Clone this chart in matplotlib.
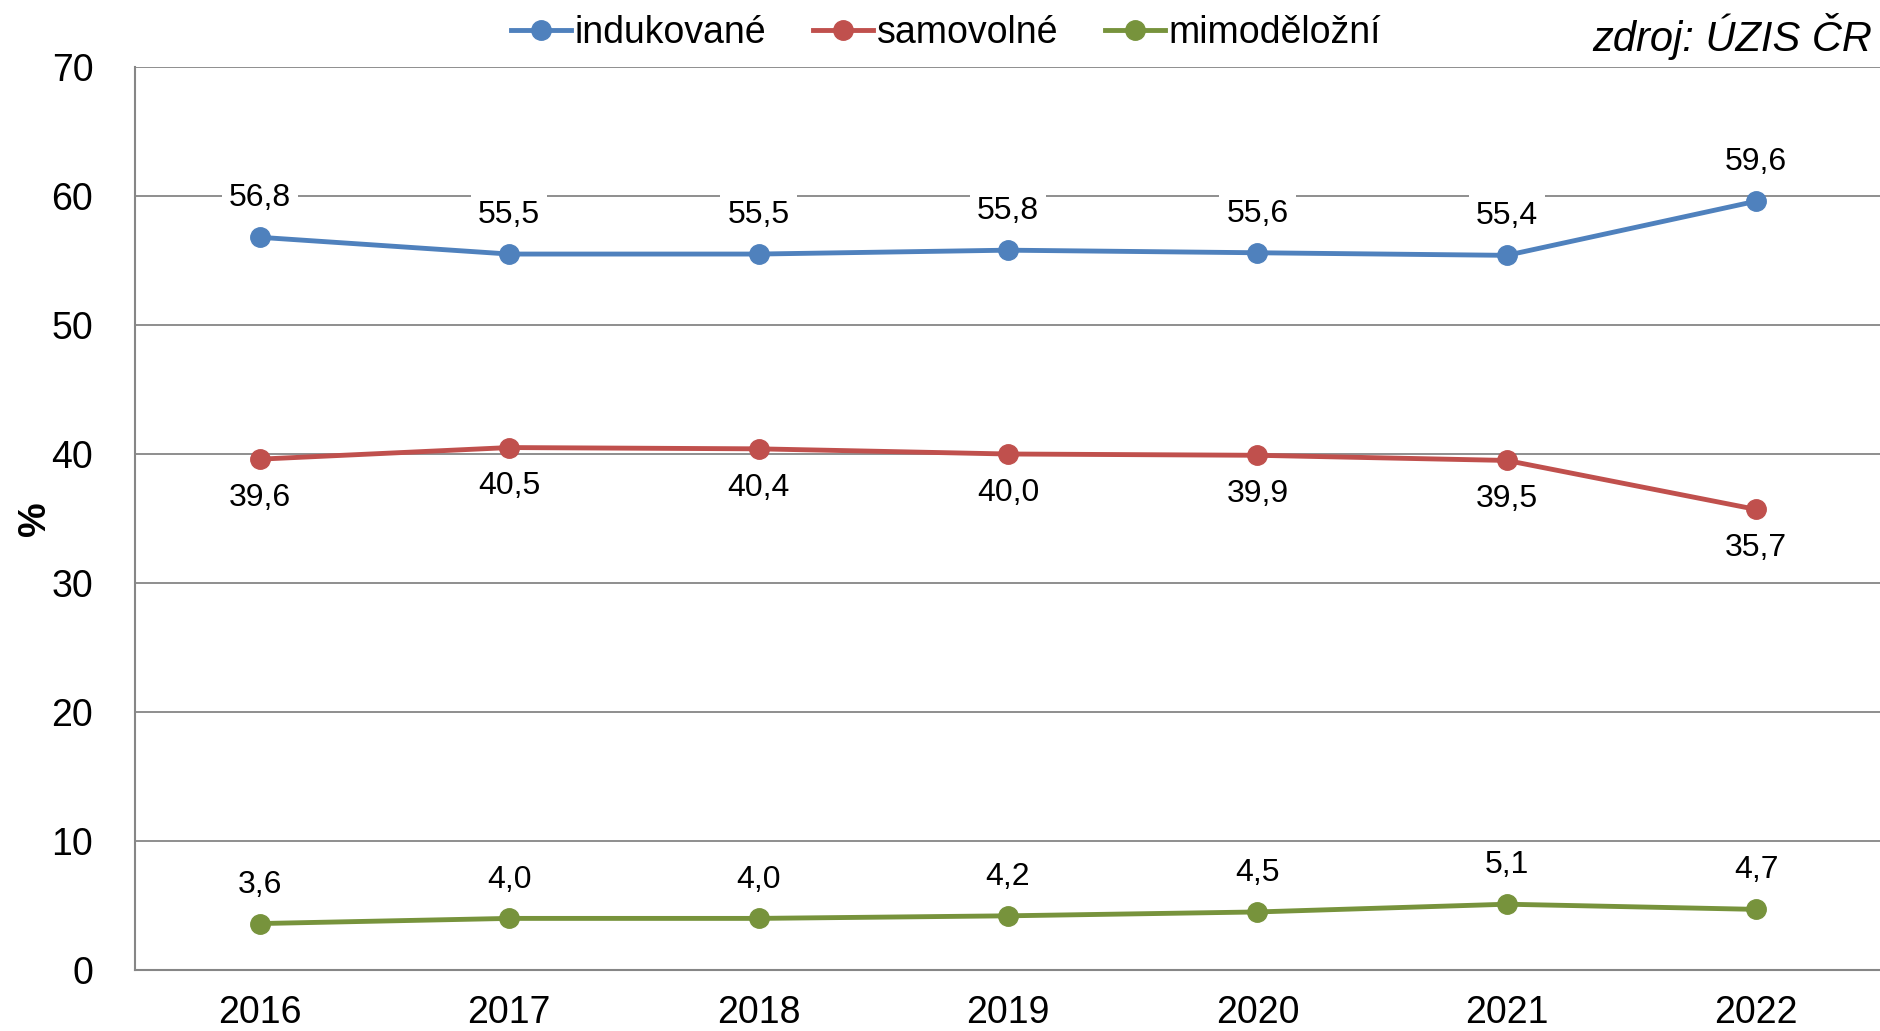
import matplotlib
matplotlib.use('Agg')
import matplotlib.pyplot as plt

plt.rcParams['font.family'] = ['Liberation Sans', 'DejaVu Sans']

# data
years = ['2016', '2017', '2018', '2019', '2020', '2021', '2022']
indukovane = [56.8, 55.5, 55.5, 55.8, 55.6, 55.4, 59.6]
samovolne = [39.6, 40.5, 40.4, 40.0, 39.9, 39.5, 35.7]
mimodelozni = [3.6, 4.0, 4.0, 4.2, 4.5, 5.1, 4.7]

series = [
    ('indukované', indukovane, '#4F81BD', 'above'),
    ('samovolné', samovolne, '#C0504D', 'below'),
    ('mimoděložní', mimodelozni, '#77933C', 'above'),
]

fig = plt.figure(figsize=(18.81, 10.31), dpi=100)
ax = fig.add_axes([135 / 1881, 1 - 970 / 1031, (1881 - 135) / 1881, (970 - 67) / 1031])

x = list(range(len(years)))
for name, vals, col, pos in series:
    ax.plot(x, vals, color=col, lw=3.5, marker='o', ms=14, label=name, zorder=3)
    for xi, v in zip(x, vals):
        dy = 28 if pos == 'above' else -28
        ax.annotate(f'{v:.1f}'.replace('.', ','), (xi, v), xytext=(0, dy),
                    textcoords='offset points', ha='center', va='center',
                    fontsize=23, color='black', zorder=4,
                    bbox=dict(facecolor='white', edgecolor='none', pad=5))

ax.set_xlim(-0.5, 6.5)
ax.set_ylim(0, 70)
ax.set_yticks(range(0, 71, 10))
ax.set_xticks(x)
ax.set_xticklabels(years)
ax.tick_params(axis='both', length=0, labelsize=27)
ax.tick_params(axis='y', pad=30)
ax.tick_params(axis='x', pad=18)
ax.grid(axis='y', color='#868686', lw=1.3, zorder=0)
ax.set_axisbelow(True)
for s in ['top', 'right']:
    ax.spines[s].set_visible(False)
for s in ['left', 'bottom']:
    ax.spines[s].set_color('#868686')
    ax.spines[s].set_linewidth(1.5)

ax.set_ylabel('%', fontsize=28, fontweight='bold')
ax.yaxis.set_label_coords(-0.047, 0.5)

fig.legend(loc='center', bbox_to_anchor=(946 / 1881, 1 - 33 / 1031), ncol=3,
           frameon=False, fontsize=27, handlelength=1.6, handletextpad=0.1,
           columnspacing=1.25, borderaxespad=0)
fig.text(1872 / 1881, 1 - 36 / 1031, 'zdroj: ÚZIS ČR', ha='right', va='center',
         fontsize=30, style='italic')

fig.savefig('out.png', dpi=100)
